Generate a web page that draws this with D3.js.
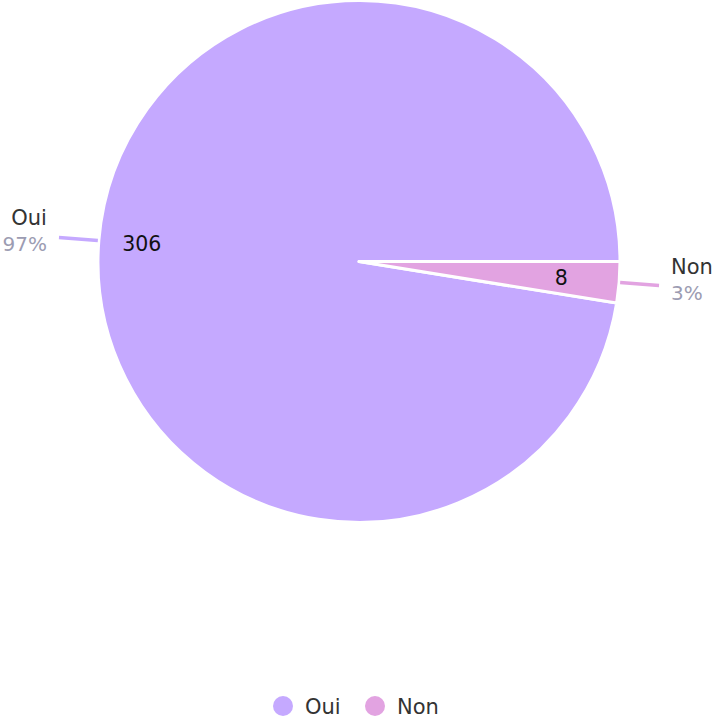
<!DOCTYPE html>
<html><head><meta charset="utf-8">
<script src="https://cdn.jsdelivr.net/npm/d3@7"></script>
<style>body{margin:0;background:#fff}svg{display:block;font-family:"DejaVu Sans",sans-serif}</style>
</head><body>
<svg id="c" width="716" height="719"></svg>
<script>
const categories = ["Oui", "Non"];
const values = [306, 8];
const percentLabels = ["97%", "3%"];
const colors = ["#c5a9ff", "#e2a3e1"];

const svg = d3.select("#c");
const cx = 359, cy = 261.5, R = 261;
const pie = d3.pie().sort(null).startAngle(Math.PI/2).endAngle(Math.PI/2 - 2*Math.PI);
const arcs = pie(values);
const arc = d3.arc().innerRadius(0).outerRadius(R);
const g = svg.append("g").attr("transform", `translate(${cx},${cy})`);
g.selectAll("path.slice").data(arcs).join("path")
  .attr("class","slice").attr("d", arc)
  .attr("fill", (d,i)=>colors[i]).attr("stroke","#fff").attr("stroke-width",3).attr("stroke-linejoin","round");

// inner value labels
const inner = [218, 203];
g.selectAll("text.val").data(arcs).join("text")
  .attr("class","val")
  .attr("x",(d,i)=>{const a=(d.startAngle+d.endAngle)/2;return inner[i]*Math.sin(a);})
  .attr("y",(d,i)=>{const a=(d.startAngle+d.endAngle)/2;return -inner[i]*Math.cos(a);})
  .attr("text-anchor","middle").attr("dy","0.36em")
  .attr("font-size",20.5).attr("fill","#111")
  .text((d,i)=>values[i]);

// link labels
arcs.forEach((d,i)=>{
  const a=(d.startAngle+d.endAngle)/2;
  const s=Math.sin(a), c=-Math.cos(a);
  const p0=[(R+1)*s,(R+1)*c], p1=[(R+40)*s,(R+40)*c];
  g.append("line").attr("x1",p0[0]).attr("y1",p0[1]).attr("x2",p1[0]).attr("y2",p1[1])
    .attr("stroke",colors[i]).attr("stroke-width",3.5);
  const right = s>0;
  const tx = p1[0] + (right?12:-12);
  const anchor = right?"start":"end";
  g.append("text").attr("x",tx).attr("y",p1[1]-12).attr("text-anchor",anchor)
    .attr("font-size",21).attr("fill","#333").text(categories[i]);
  g.append("text").attr("x",tx).attr("y",p1[1]+14).attr("text-anchor",anchor)
    .attr("font-size",20).attr("fill","#9c9cb2").text(percentLabels[i]);
});

// legend
const lg = svg.append("g");
const lx = [283, 375];
categories.forEach((c,i)=>{
  lg.append("circle").attr("cx",lx[i]).attr("cy",706).attr("r",10).attr("fill",colors[i]);
  lg.append("text").attr("x",lx[i]+22).attr("y",706).attr("dy","0.36em")
    .attr("font-size",21).attr("fill","#333").text(c);
});
</script>
</body></html>
